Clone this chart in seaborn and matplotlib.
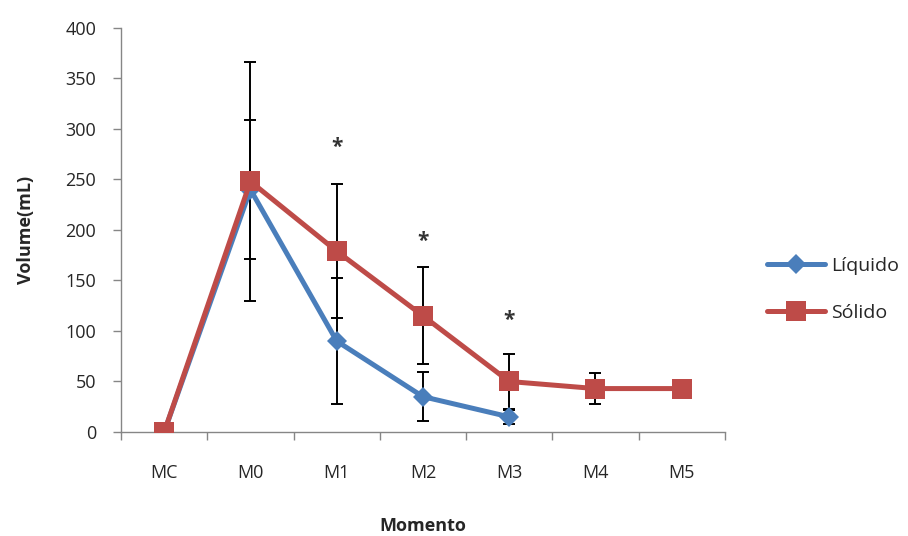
import pandas as pd
import numpy as np
import matplotlib.pyplot as plt
import seaborn as sns

momentos = ['MC', 'M0', 'M1', 'M2', 'M3', 'M4', 'M5']

liquido = [0, 240, 90, 35, 15]
liquido_sd = [0, 69, 62, 24, 7]
solido = [0, 248, 179, 115, 50, 43, 43]
solido_sd = [0, 118, 66, 48, 27, 15, 0]

# asterisks (significance) above M1, M2, M3
sig_pos = ['M1', 'M2', 'M3']
sig_y = [282, 189, 110]

sns.set_style('white')
plt.rcParams['font.family'] = ['Open Sans', 'DejaVu Sans']

df = pd.concat([
    pd.DataFrame({'Momento': momentos[:len(liquido)], 'Volume': liquido, 'grupo': 'Líquido'}),
    pd.DataFrame({'Momento': momentos, 'Volume': solido, 'grupo': 'Sólido'}),
])

blue = '#4A7EBB'
red = '#BE4B48'

fig = plt.figure(figsize=(9.08, 5.36), dpi=100)
ax = fig.add_axes([0.1333, 0.194, 0.665, 0.754])

# error bars behind the lines
ax.errorbar(range(len(liquido)), liquido, yerr=liquido_sd, fmt='none',
            ecolor='black', elinewidth=1.4, capsize=4, capthick=1.4, zorder=1)
ax.errorbar(range(len(solido)), solido, yerr=solido_sd, fmt='none',
            ecolor='black', elinewidth=1.4, capsize=4, capthick=1.4, zorder=1)

sns.lineplot(data=df, x='Momento', y='Volume', hue='grupo', style='grupo',
             palette={'Líquido': blue, 'Sólido': red},
             markers={'Líquido': 'D', 'Sólido': 's'}, dashes=False,
             sort=False, linewidth=3.6, markersize=15, markeredgewidth=0,
             ax=ax, zorder=3)
# make the diamond smaller than the square
for line in ax.get_lines():
    if line.get_marker() == 'D':
        line.set_markersize(10)

for m, y in zip(sig_pos, sig_y):
    ax.text(momentos.index(m), y, '*', ha='center', va='center',
            fontsize=15, fontweight='bold', color='#333333')

ax.set_xlim(-0.5, 6.5)
ax.set_ylim(0, 400)
ax.set_yticks(np.arange(0, 401, 50))
ax.set_xticks(range(len(momentos)))
ax.set_xticklabels(momentos)
ax.set_xticks(np.arange(-0.5, 7, 1), minor=True)
ax.tick_params(axis='x', which='major', length=0, pad=23, labelsize=13)
ax.tick_params(axis='x', which='minor', length=6, width=1, color='#868686', direction='out', bottom=True)
ax.tick_params(axis='y', length=6, width=1, color='#868686', direction='out', left=True, labelsize=13, pad=12)

for s in ['top', 'right']:
    ax.spines[s].set_visible(False)
for s in ['left', 'bottom']:
    ax.spines[s].set_color('#868686')
    ax.spines[s].set_linewidth(1)

ax.set_xlabel('Momento', fontsize=13, fontweight='bold', labelpad=25)
ax.set_ylabel('Volume(mL)', fontsize=13, fontweight='bold', labelpad=22)

handles, labels = ax.get_legend_handles_labels()
ax.legend(handles, labels, loc='center left', bbox_to_anchor=(0.825, 0.46),
          bbox_transform=fig.transFigure, frameon=False, fontsize=14,
          handlelength=3.0, labelspacing=1.5, handletextpad=0.3)

plt.savefig('out.png', dpi=100)
